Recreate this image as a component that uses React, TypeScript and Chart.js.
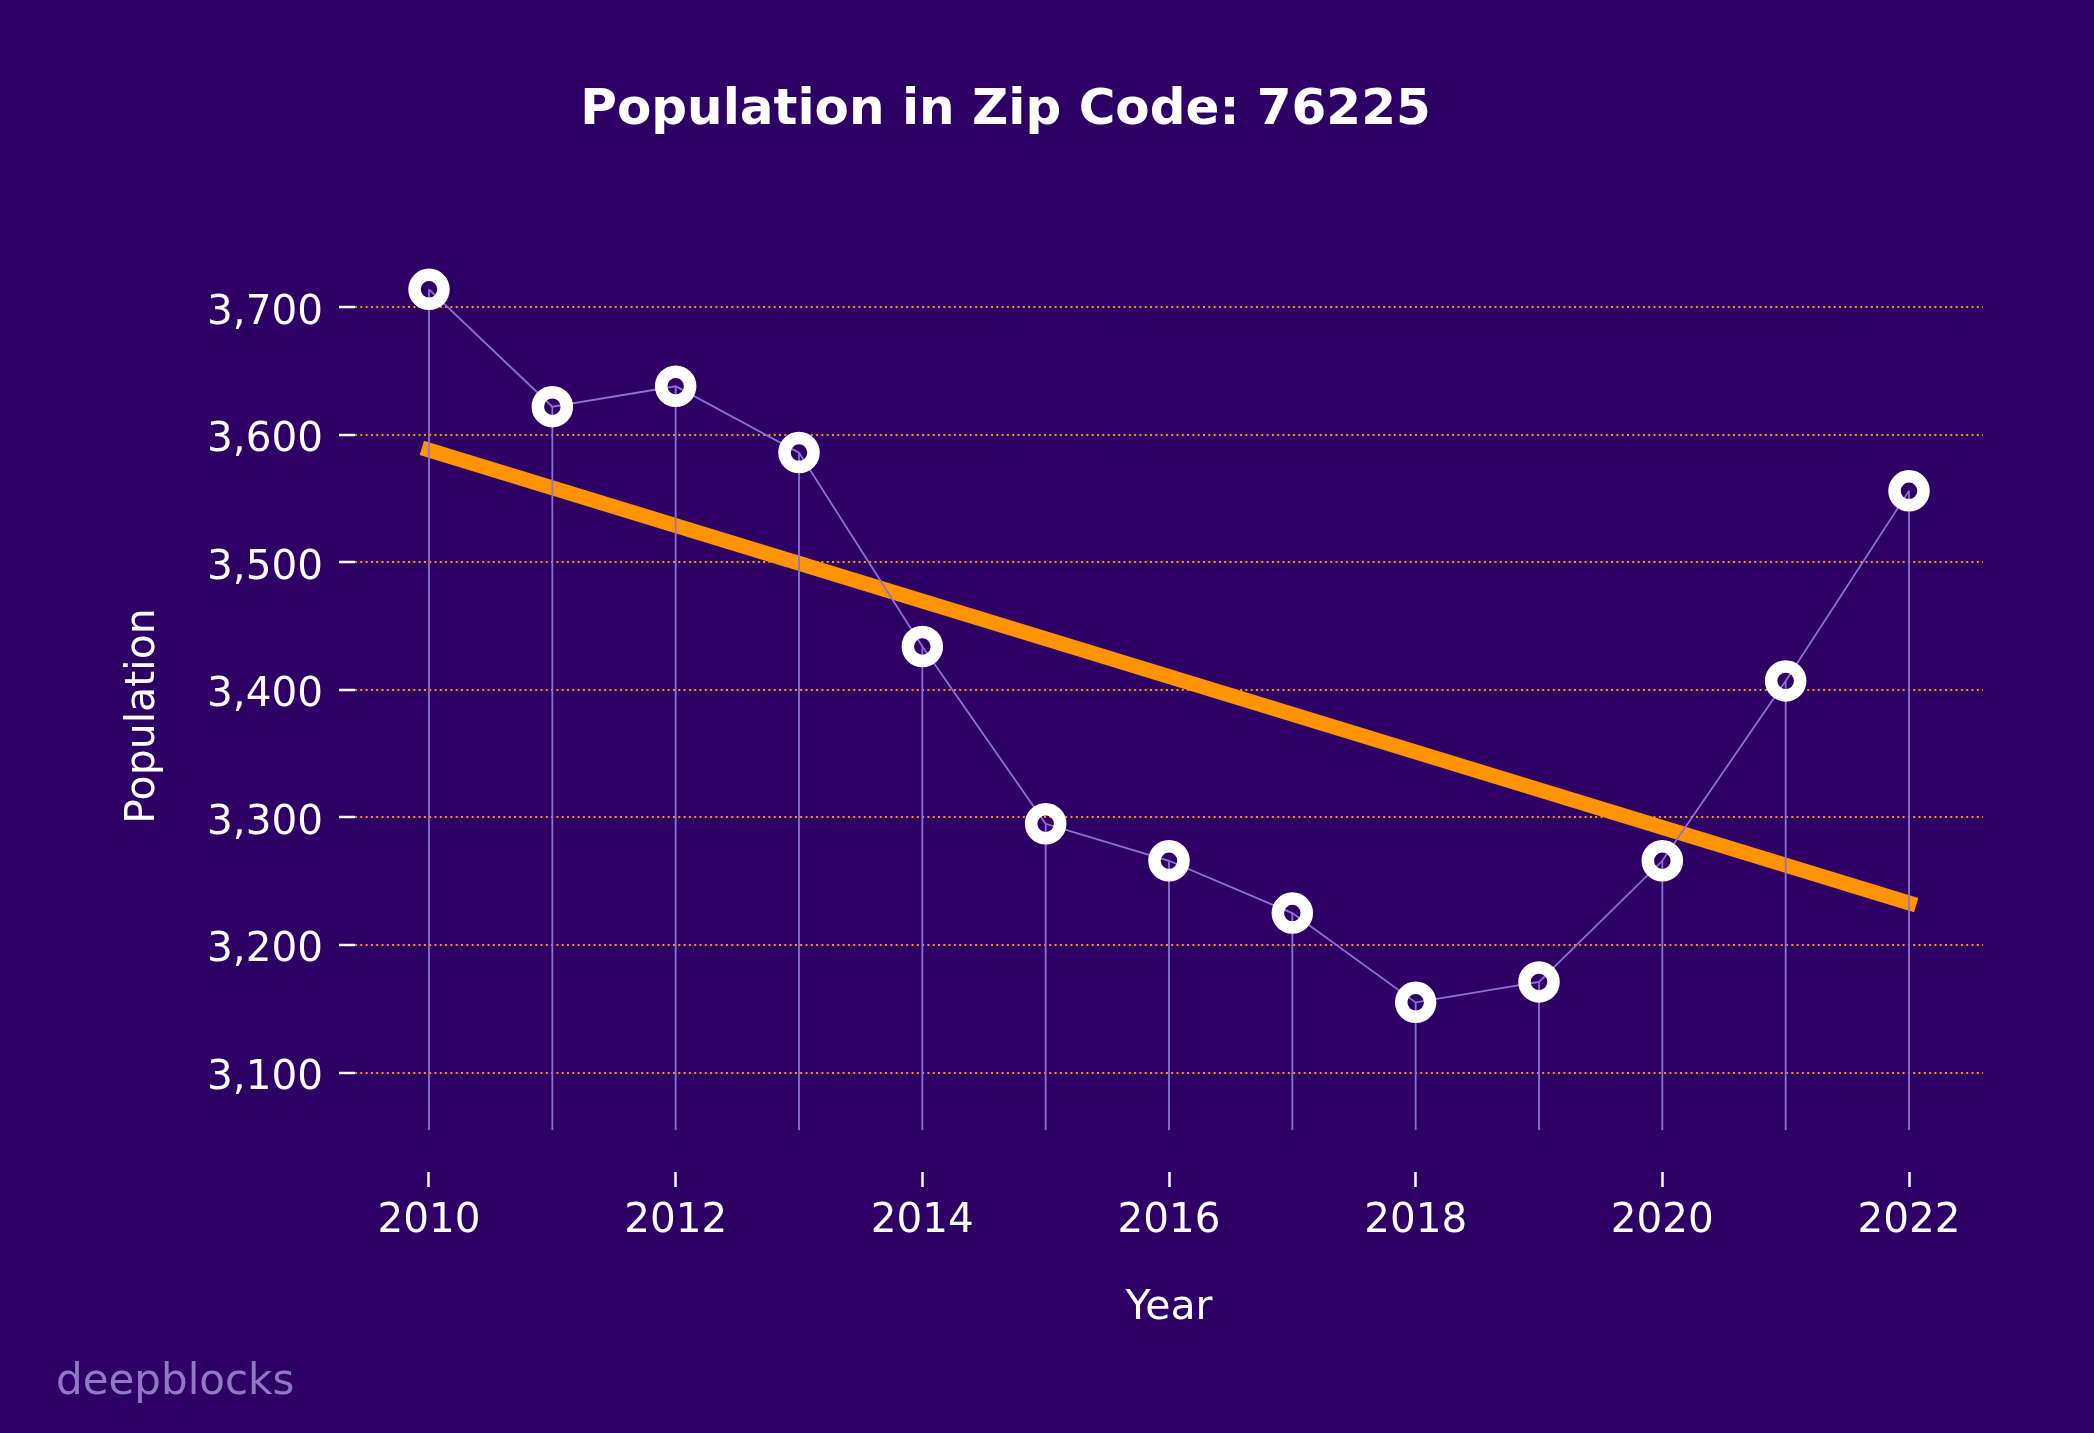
import React, { useEffect, useRef } from "react";
import { Chart, registerables } from "chart.js";

Chart.register(...registerables);

// ---- data ----
const years = [2010, 2011, 2012, 2013, 2014, 2015, 2016, 2017, 2018, 2019, 2020, 2021, 2022];
const population = [3714, 3622, 3638, 3586, 3434, 3295, 3266, 3225, 3155, 3171, 3266, 3407, 3556];
const trendYears = [2010, 2022];
const trendValues = [3588, 3233];
const stemBase = 3055;
const xTickValues = [2010, 2012, 2014, 2016, 2018, 2020, 2022];
const yTickValues = [3100, 3200, 3300, 3400, 3500, 3600, 3700];
const xLimits = [2009.4, 2022.6];
const yLimits = [3022, 3737];

const TITLE = "Population in Zip Code: 76225";
const X_TITLE = "Year";
const Y_TITLE = "Population";
const WATERMARK = "deepblocks";

// ---- style ----
const W = 2094;
const H = 1433;
const BG = "#2e0066";
const ORANGE = "#ff9400";
const LAVENDER = "#8d72d3";
const WATERMARK_COLOR = "#9179c5";
const FONT = "'DejaVu Sans', 'Noto Sans', sans-serif";

export default function App() {
  const ref = useRef<HTMLCanvasElement | null>(null);

  useEffect(() => {
    document.body.style.margin = "0";
    document.body.style.background = BG;
    const canvas = ref.current;
    if (!canvas) return;

    const bgPlugin = {
      id: "bg",
      beforeDraw(chart: any) {
        const { ctx } = chart;
        ctx.save();
        ctx.fillStyle = BG;
        ctx.fillRect(0, 0, chart.width, chart.height);
        ctx.restore();
      },
    };

    const stemPlugin = {
      id: "stems",
      beforeDatasetDraw(chart: any, args: any) {
        if (args.index !== 0) return;
        const { ctx, chartArea } = chart;
        const xs = chart.scales.x;
        const ys = chart.scales.y;
        ctx.save();
        ctx.beginPath();
        ctx.rect(chartArea.left, chartArea.top, chartArea.right - chartArea.left, chartArea.bottom - chartArea.top);
        ctx.clip();
        ctx.strokeStyle = LAVENDER;
        ctx.lineWidth = 1.8;
        years.forEach((yr, i) => {
          const px = xs.getPixelForValue(yr);
          ctx.beginPath();
          ctx.moveTo(px, ys.getPixelForValue(stemBase));
          ctx.lineTo(px, ys.getPixelForValue(population[i]));
          ctx.stroke();
        });
        ctx.restore();
      },
    };

    const watermarkPlugin = {
      id: "watermark",
      afterDraw(chart: any) {
        const { ctx } = chart;
        ctx.save();
        ctx.font = `42px ${FONT}`;
        ctx.fillStyle = WATERMARK_COLOR;
        ctx.textAlign = "left";
        ctx.textBaseline = "alphabetic";
        ctx.fillText(WATERMARK, 56, 1394);
        ctx.restore();
      },
    };

    const chart = new Chart(canvas, {
      type: "line",
      data: {
        datasets: [
          {
            label: "Population",
            data: years.map((x, i) => ({ x, y: population[i] })),
            borderColor: LAVENDER,
            borderWidth: 1.8,
            pointRadius: 14.5,
            pointBorderWidth: 12.5,
            pointBackgroundColor: "rgba(0,0,0,0)",
            pointBorderColor: "#ffffff",
            pointHoverRadius: 14.5,
            tension: 0,
            order: 1,
          },
          {
            label: "Trend",
            data: trendYears.map((x, i) => ({ x, y: trendValues[i] })),
            borderColor: ORANGE,
            borderWidth: 15,
            borderCapStyle: "square",
            pointRadius: 0,
            pointHoverRadius: 0,
            tension: 0,
            order: 2,
          },
        ],
      },
      options: {
        responsive: false,
        animation: false,
        devicePixelRatio: 1,
        events: [],
        layout: { padding: { left: 28, right: 111, top: 0, bottom: 0 } },
        plugins: {
          legend: { display: false },
          tooltip: { enabled: false },
          title: {
            display: true,
            text: TITLE,
            color: "#ffffff",
            font: { family: FONT, size: 50, weight: "bold" },
            padding: { top: 81, bottom: 119 },
          },
        },
        scales: {
          x: {
            type: "linear",
            min: xLimits[0],
            max: xLimits[1],
            afterBuildTicks: (scale: any) => {
              scale.ticks = xTickValues.map((v) => ({ value: v }));
            },
            afterFit: (scale: any) => {
              scale.height = H - 1172;
            },
            border: { display: false },
            grid: {
              drawOnChartArea: false,
              drawTicks: true,
              tickLength: 15,
              tickWidth: 2.5,
              tickColor: "#ffffff",
            },
            ticks: {
              color: "#ffffff",
              font: { family: FONT, size: 40.5 },
              padding: 10,
              maxRotation: 0,
              autoSkip: false,
              callback: (v: any) => String(v),
            },
            title: {
              display: true,
              text: X_TITLE,
              color: "#ffffff",
              font: { family: FONT, size: 41 },
              padding: { top: 0, bottom: 100 },
            },
          },
          y: {
            type: "linear",
            min: yLimits[0],
            max: yLimits[1],
            afterBuildTicks: (scale: any) => {
              scale.ticks = yTickValues.map((v) => ({ value: v }));
            },
            afterFit: (scale: any) => {
              scale.width = 355 - 28;
            },
            border: { display: false, dash: [2, 3.3] },
            grid: {
              drawOnChartArea: true,
              color: ORANGE,
              lineWidth: 2,
              drawTicks: true,
              tickLength: 16,
              tickWidth: 2.5,
              tickColor: "#ffffff",
              tickBorderDash: [],
            },
            ticks: {
              color: "#ffffff",
              font: { family: FONT, size: 40.5 },
              padding: 16,
              labelOffset: 6,
              autoSkip: false,
              callback: (v: any) => Number(v).toLocaleString("en-US"),
            },
            title: {
              display: true,
              text: Y_TITLE,
              color: "#ffffff",
              font: { family: FONT, size: 41 },
              padding: { top: 91, bottom: 0 },
            },
          },
        },
      },
      plugins: [bgPlugin, stemPlugin, watermarkPlugin],
    } as any);

    return () => chart.destroy();
  }, []);

  return (
    <div style={{ position: "fixed", left: 0, top: 0, width: W, height: H, background: BG }}>
      <canvas ref={ref} width={W} height={H} style={{ display: "block", width: W, height: H }} />
    </div>
  );
}
